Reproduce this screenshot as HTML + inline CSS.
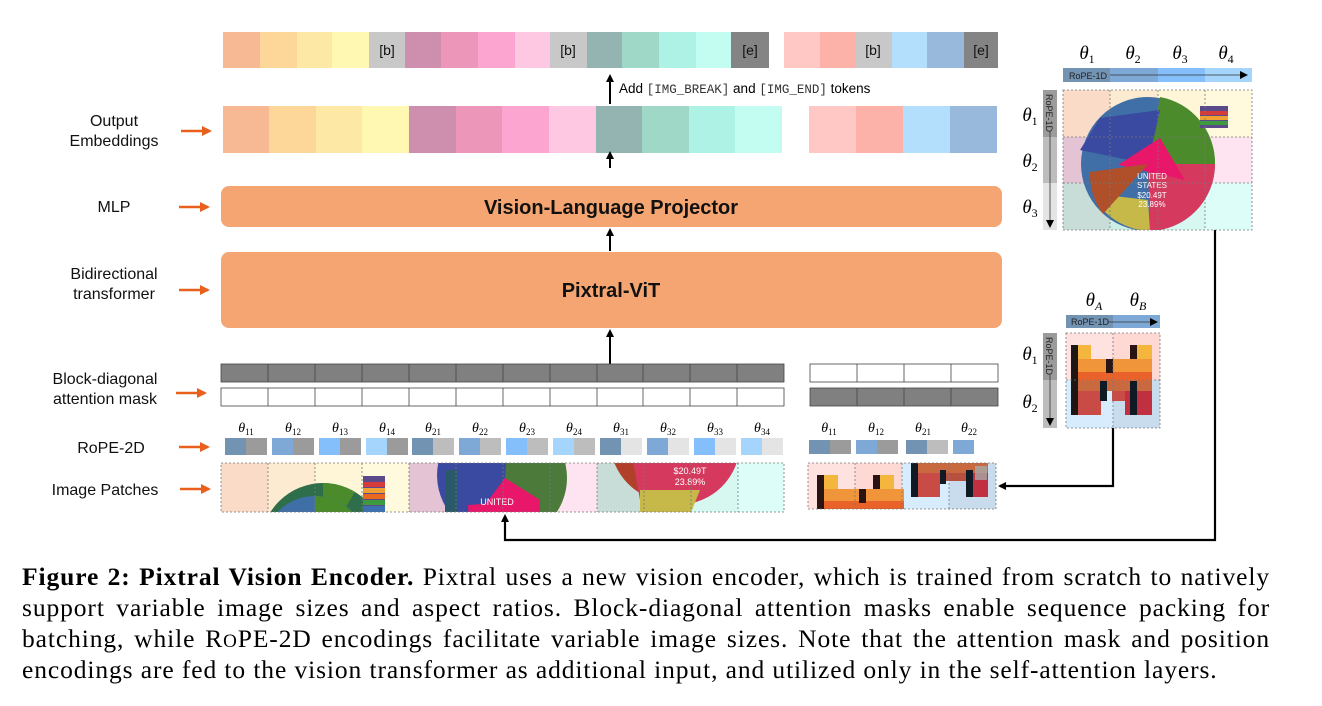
<!DOCTYPE html>
<html><head><meta charset="utf-8"><style>
body{margin:0;background:#fff;width:1322px;height:706px;overflow:hidden;position:relative;font-family:"Liberation Sans",sans-serif}
svg{position:absolute;left:0;top:0}
.cap{position:absolute;left:22px;top:561px;width:1248px;font-family:"Liberation Serif",serif;font-size:25.5px;line-height:31px;color:#000;letter-spacing:0.9px}
.cap div{text-align:justify;text-align-last:justify;white-space:nowrap;height:31px}
.cap div.last{text-align-last:left}
</style></head><body>
<svg width="1322" height="706" viewBox="0 0 1322 706" font-family="Liberation Sans, sans-serif">
<defs>
<marker id="ar" markerWidth="8" markerHeight="8" refX="6" refY="4" orient="auto" markerUnits="userSpaceOnUse"><path d="M0,0 L8,4 L0,8 z" fill="#000"/></marker>
<marker id="ao" markerWidth="10" markerHeight="10" refX="8" refY="5" orient="auto" markerUnits="userSpaceOnUse"><path d="M0,0 L10,5 L0,10 z" fill="#E8601C"/></marker>
<clipPath id="c1"><rect x="221" y="463" width="188" height="49"/></clipPath>
<clipPath id="c2"><rect x="409" y="463" width="188" height="49"/></clipPath>
<clipPath id="c3"><rect x="597" y="463" width="187" height="49"/></clipPath>
<clipPath id="cr"><rect x="1063" y="90" width="189" height="140"/></clipPath>
</defs>

<g>
<rect x="223" y="32" width="37" height="36" fill="#F7B894"/>
<rect x="260" y="32" width="37" height="36" fill="#FDD69A"/>
<rect x="297" y="32" width="36" height="36" fill="#FEE8A5"/>
<rect x="332" y="32" width="37" height="36" fill="#FFF8B3"/>
<rect x="369" y="32" width="36" height="36" fill="#C8C8C8"/>
<rect x="405" y="32" width="37" height="36" fill="#CE8EAD"/>
<rect x="441" y="32" width="37" height="36" fill="#EC96BA"/>
<rect x="478" y="32" width="37" height="36" fill="#FCA5D1"/>
<rect x="515" y="32" width="36" height="36" fill="#FEC8E2"/>
<rect x="550" y="32" width="37" height="36" fill="#C8C8C8"/>
<rect x="587" y="32" width="36" height="36" fill="#93B4B1"/>
<rect x="622" y="32" width="37" height="36" fill="#A0D8C8"/>
<rect x="659" y="32" width="37" height="36" fill="#AEF2E6"/>
<rect x="696" y="32" width="36" height="36" fill="#C3FDF1"/>
<rect x="731" y="32" width="38" height="36" fill="#848484"/>
<rect x="784" y="32" width="36" height="36" fill="#FFC8C4"/>
<rect x="820" y="32" width="36" height="36" fill="#FDB2A9"/>
<rect x="855" y="32" width="37" height="36" fill="#C8C8C8"/>
<rect x="892" y="32" width="36" height="36" fill="#B3DEFC"/>
<rect x="927" y="32" width="37" height="36" fill="#98B9DB"/>
<rect x="964" y="32" width="34" height="36" fill="#848484"/>
<g font-size="14" fill="#111" text-anchor="middle">
<text x="387" y="55">[b]</text><text x="568" y="55">[b]</text><text x="750" y="55">[e]</text>
<text x="873" y="55">[b]</text><text x="981" y="55">[e]</text></g>
</g>

<line x1="610" y1="104" x2="610" y2="76" stroke="#000" stroke-width="2" marker-end="url(#ar)"/>
<text x="619" y="93" font-size="13.5" fill="#000">Add <tspan font-family="Liberation Mono, monospace" font-size="12.5" fill="#333">[IMG_BREAK]</tspan> and <tspan font-family="Liberation Mono, monospace" font-size="12.5" fill="#333">[IMG_END]</tspan> tokens</text>

<g>
<rect x="223" y="106" width="47" height="47" fill="#F7B894"/>
<rect x="269" y="106" width="47" height="47" fill="#FDD69A"/>
<rect x="316" y="106" width="47" height="47" fill="#FEE8A5"/>
<rect x="362" y="106" width="47" height="47" fill="#FFF8B3"/>
<rect x="409" y="106" width="47" height="47" fill="#CE8EAD"/>
<rect x="456" y="106" width="47" height="47" fill="#EC96BA"/>
<rect x="502" y="106" width="47" height="47" fill="#FCA5D1"/>
<rect x="549" y="106" width="47" height="47" fill="#FEC8E2"/>
<rect x="596" y="106" width="47" height="47" fill="#93B4B1"/>
<rect x="642" y="106" width="47" height="47" fill="#A0D8C8"/>
<rect x="689" y="106" width="47" height="47" fill="#AEF2E6"/>
<rect x="735" y="106" width="47" height="47" fill="#C3FDF1"/>
<rect x="809" y="106" width="47" height="47" fill="#FFC8C4"/>
<rect x="856" y="106" width="47" height="47" fill="#FDB2A9"/>
<rect x="903" y="106" width="47" height="47" fill="#B3DEFC"/>
<rect x="950" y="106" width="47" height="47" fill="#98B9DB"/>
</g>
<line x1="610" y1="168" x2="610" y2="153" stroke="#000" stroke-width="2" marker-end="url(#ar)"/>

<rect x="221" y="186" width="781" height="41" rx="8" fill="#F4A571"/>
<text x="611" y="214" font-size="20" font-weight="bold" text-anchor="middle" fill="#111">Vision-Language Projector</text>
<line x1="610" y1="251" x2="610" y2="230" stroke="#000" stroke-width="2" marker-end="url(#ar)"/>
<rect x="221" y="252" width="781" height="76" rx="8" fill="#F4A571"/>
<text x="611" y="297" font-size="20" font-weight="bold" text-anchor="middle" fill="#111">Pixtral-ViT</text>
<line x1="610" y1="364" x2="610" y2="331" stroke="#000" stroke-width="2" marker-end="url(#ar)"/>

<g stroke="#444" stroke-width="0.8">
<rect x="221" y="364" width="563" height="18" fill="#808080"/>
<rect x="221" y="388" width="563" height="18" fill="#fff"/>
<rect x="810" y="364" width="188" height="18" fill="#fff"/>
<rect x="810" y="388" width="188" height="18" fill="#808080"/>
<path d="M268 364v18M315 364v18M362 364v18M409 364v18M456 364v18M503 364v18M550 364v18M597 364v18M643 364v18M690 364v18M737 364v18M268 388v18M315 388v18M362 388v18M409 388v18M456 388v18M503 388v18M550 388v18M597 388v18M643 388v18M690 388v18M737 388v18M857 364v18M904 364v18M951 364v18M857 388v18M904 388v18M951 388v18" fill="none"/>
</g>

<g font-family="Liberation Serif, serif" font-style="italic" font-size="14" text-anchor="middle">
<text x="246" y="432">θ<tspan font-style="normal" font-size="9" dy="3">11</tspan></text>
<text x="293" y="432">θ<tspan font-style="normal" font-size="9" dy="3">12</tspan></text>
<text x="340" y="432">θ<tspan font-style="normal" font-size="9" dy="3">13</tspan></text>
<text x="387" y="432">θ<tspan font-style="normal" font-size="9" dy="3">14</tspan></text>
<text x="433" y="432">θ<tspan font-style="normal" font-size="9" dy="3">21</tspan></text>
<text x="480" y="432">θ<tspan font-style="normal" font-size="9" dy="3">22</tspan></text>
<text x="527" y="432">θ<tspan font-style="normal" font-size="9" dy="3">23</tspan></text>
<text x="574" y="432">θ<tspan font-style="normal" font-size="9" dy="3">24</tspan></text>
<text x="621" y="432">θ<tspan font-style="normal" font-size="9" dy="3">31</tspan></text>
<text x="668" y="432">θ<tspan font-style="normal" font-size="9" dy="3">32</tspan></text>
<text x="715" y="432">θ<tspan font-style="normal" font-size="9" dy="3">33</tspan></text>
<text x="762" y="432">θ<tspan font-style="normal" font-size="9" dy="3">34</tspan></text>
<text x="829" y="432">θ<tspan font-style="normal" font-size="9" dy="3">11</tspan></text>
<text x="876" y="432">θ<tspan font-style="normal" font-size="9" dy="3">12</tspan></text>
<text x="923" y="432">θ<tspan font-style="normal" font-size="9" dy="3">21</tspan></text>
<text x="969" y="432">θ<tspan font-style="normal" font-size="9" dy="3">22</tspan></text>
</g>
<g>
<rect x="225" y="438" width="21" height="17" fill="#7393B3"/><rect x="246" y="438" width="21" height="17" fill="#9B9B9B"/>
<rect x="272" y="438" width="21" height="17" fill="#7EA9D6"/><rect x="293" y="438" width="21" height="17" fill="#9B9B9B"/>
<rect x="319" y="438" width="21" height="17" fill="#84BFFB"/><rect x="340" y="438" width="21" height="17" fill="#9B9B9B"/>
<rect x="366" y="438" width="21" height="17" fill="#A5D5FC"/><rect x="387" y="438" width="21" height="17" fill="#9B9B9B"/>
<rect x="412" y="438" width="21" height="17" fill="#7393B3"/><rect x="433" y="438" width="21" height="17" fill="#BDBDBD"/>
<rect x="459" y="438" width="21" height="17" fill="#7EA9D6"/><rect x="480" y="438" width="21" height="17" fill="#BDBDBD"/>
<rect x="506" y="438" width="21" height="17" fill="#84BFFB"/><rect x="527" y="438" width="21" height="17" fill="#BDBDBD"/>
<rect x="553" y="438" width="21" height="17" fill="#A5D5FC"/><rect x="574" y="438" width="21" height="17" fill="#BDBDBD"/>
<rect x="600" y="438" width="21" height="17" fill="#7393B3"/><rect x="621" y="438" width="21" height="17" fill="#E4E4E4"/>
<rect x="647" y="438" width="21" height="17" fill="#7EA9D6"/><rect x="668" y="438" width="21" height="17" fill="#E4E4E4"/>
<rect x="694" y="438" width="21" height="17" fill="#84BFFB"/><rect x="715" y="438" width="21" height="17" fill="#E4E4E4"/>
<rect x="741" y="438" width="21" height="17" fill="#A5D5FC"/><rect x="762" y="438" width="21" height="17" fill="#E4E4E4"/>
<rect x="809" y="440" width="21" height="14" fill="#7393B3"/><rect x="830" y="440" width="21" height="14" fill="#9B9B9B"/>
<rect x="856" y="440" width="21" height="14" fill="#7EA9D6"/><rect x="877" y="440" width="21" height="14" fill="#9B9B9B"/>
<rect x="906" y="440" width="21" height="14" fill="#7393B3"/><rect x="927" y="440" width="21" height="14" fill="#BDBDBD"/>
<rect x="953" y="440" width="21" height="14" fill="#7EA9D6"/>
</g>

<g>
<rect x="221" y="463" width="47" height="49" fill="#FADBC8"/><rect x="268" y="463" width="47" height="49" fill="#FCEBD0"/>
<rect x="315" y="463" width="47" height="49" fill="#FEF6D6"/><rect x="362" y="463" width="47" height="49" fill="#FFF9DD"/>
<rect x="409" y="463" width="47" height="49" fill="#E4C4D4"/><rect x="456" y="463" width="47" height="49" fill="#E8C8DC"/>
<rect x="503" y="463" width="47" height="49" fill="#F2D2E2"/><rect x="550" y="463" width="47" height="49" fill="#FDE4F0"/>
<rect x="597" y="463" width="47" height="49" fill="#C8DCD8"/><rect x="644" y="463" width="47" height="49" fill="#CDEEE6"/>
<rect x="691" y="463" width="47" height="49" fill="#D6F8F0"/><rect x="738" y="463" width="46" height="49" fill="#DDFDF8"/>
<g clip-path="url(#c1)">
<circle cx="323" cy="545" r="62" fill="#2F6E4A"/>
<path d="M323 545 L323 483 A62 62 0 0 1 355 492 Z" fill="#4B8B2B"/>
<circle cx="315" cy="548" r="52" fill="#3F6FA6"/>
<path d="M315 548 L315 496 A52 52 0 0 1 366 540 Z" fill="#4A8C2A"/>
<rect x="363" y="476" width="22" height="36" fill="#5B4A8A"/><rect x="363" y="482" width="22" height="5" fill="#D43B3B"/><rect x="363" y="488" width="22" height="5" fill="#F0A030"/><rect x="363" y="494" width="22" height="5" fill="#E96A1F"/><rect x="363" y="500" width="22" height="5" fill="#3E9A3E"/><rect x="363" y="506" width="22" height="6" fill="#3D6FB3"/>
</g>
<g clip-path="url(#c2)">
<circle cx="505" cy="478" r="62" fill="#4C7A3A"/>
<path d="M505 478 L450 450 L470 420 L510 416 Z" fill="#3A4AA0"/>
<path d="M505 478 L448 440 A62 62 0 0 0 470 530 Z" fill="#3A4AA0"/>
<path d="M505 478 L540 500 L475 518 Z" fill="#E8176A"/>
<path d="M468 505 L470 540 L540 540 L540 500 Z" fill="#E8176A"/>
<rect x="445" y="470" width="12" height="42" fill="#2A5A6A"/>
<text x="497" y="505" font-size="9" fill="#fff" text-anchor="middle">UNITED</text>
</g>
<g clip-path="url(#c3)">
<circle cx="672" cy="440" r="62" fill="#B0402A"/>
<path d="M672 440 L740 440 A62 62 0 0 1 660 502 Z" fill="#D53A5E"/>
<path d="M632 455 L720 470 A62 62 0 0 1 660 512 L640 500 Z" fill="#D53A5E"/>
<path d="M640 490 L700 490 L690 515 L640 515 Z" fill="#C6B94A"/>
<text x="690" y="474" font-size="9" fill="#fff" text-anchor="middle">$20.49T</text>
<text x="690" y="485" font-size="9" fill="#fff" text-anchor="middle">23.89%</text>
</g>
<g fill="none" stroke="#777" stroke-width="0.8" stroke-dasharray="2,2">
<rect x="221" y="463" width="563" height="49"/>
<path d="M268 463v49M315 463v49M362 463v49M409 463v49M456 463v49M503 463v49M550 463v49M597 463v49M644 463v49M691 463v49M738 463v49"/>
</g>
</g>

<g>
<rect x="808" y="463" width="47" height="46" fill="#FEE2E0"/><rect x="855" y="463" width="47" height="46" fill="#FED8D2"/>
<rect x="902" y="463" width="47" height="46" fill="#D7EDFD"/><rect x="949" y="463" width="47" height="46" fill="#C8DCEE"/>
<rect x="817" y="475" width="7" height="34" fill="#2A1515"/>
<rect x="824" y="475" width="14" height="14" fill="#F5B63E"/>
<rect x="824" y="489" width="80" height="12" fill="#F0953A"/>
<rect x="824" y="501" width="80" height="8" fill="#E8622A"/>
<rect x="880" y="475" width="14" height="14" fill="#F5B63E"/>
<rect x="873" y="475" width="7" height="14" fill="#2A1515"/>
<rect x="859" y="489" width="7" height="14" fill="#2A1515"/>
<rect x="911" y="463" width="77" height="10" fill="#C8693F"/>
<rect x="918" y="473" width="22" height="24" fill="#C84B45"/>
<rect x="944" y="473" width="30" height="8" fill="#B85040"/>
<rect x="973" y="473" width="15" height="24" fill="#C03040"/>
<rect x="911" y="463" width="7" height="34" fill="#0F1A25"/>
<rect x="940" y="470" width="6" height="14" fill="#0F1A25"/>
<rect x="966" y="470" width="7" height="27" fill="#0F1A25"/>
<rect x="975" y="466" width="12" height="14" fill="#A8A8A8" opacity="0.8"/>
<g fill="none" stroke="#777" stroke-width="0.8" stroke-dasharray="2,2">
<rect x="808" y="463" width="188" height="46"/><path d="M855 463v46M902 463v46M949 463v46"/></g>
</g>

<g font-family="Liberation Serif, serif" font-style="italic" font-size="19" text-anchor="middle">
<text x="1087" y="59">θ<tspan font-style="normal" font-size="12" dy="4">1</tspan></text>
<text x="1133" y="59">θ<tspan font-style="normal" font-size="12" dy="4">2</tspan></text>
<text x="1180" y="59">θ<tspan font-style="normal" font-size="12" dy="4">3</tspan></text>
<text x="1226" y="59">θ<tspan font-style="normal" font-size="12" dy="4">4</tspan></text>
<text x="1030" y="121">θ<tspan font-style="normal" font-size="12" dy="4">1</tspan></text>
<text x="1030" y="167">θ<tspan font-style="normal" font-size="12" dy="4">2</tspan></text>
<text x="1030" y="213">θ<tspan font-style="normal" font-size="12" dy="4">3</tspan></text>
<text x="1094" y="306">θ<tspan font-size="12" dy="4">A</tspan></text>
<text x="1138" y="306">θ<tspan font-size="12" dy="4">B</tspan></text>
<text x="1030" y="360">θ<tspan font-style="normal" font-size="12" dy="4">1</tspan></text>
<text x="1030" y="408">θ<tspan font-style="normal" font-size="12" dy="4">2</tspan></text>
</g>
<rect x="1063" y="68" width="47" height="14" fill="#7393B3"/><rect x="1110" y="68" width="48" height="14" fill="#7EA9D6"/>
<rect x="1158" y="68" width="47" height="14" fill="#84BFFB"/><rect x="1205" y="68" width="47" height="14" fill="#A5D5FC"/>
<text x="1069" y="79" font-size="9" fill="#222">RoPE-1D</text>
<line x1="1110" y1="75" x2="1246" y2="75" stroke="#333" stroke-width="0.8" marker-end="url(#ar)"/>
<rect x="1043" y="90" width="14" height="47" fill="#9B9B9B"/><rect x="1043" y="137" width="14" height="46" fill="#BDBDBD"/><rect x="1043" y="183" width="14" height="47" fill="#E4E4E4"/>
<text transform="translate(1046,94) rotate(90)" font-size="9" fill="#222">RoPE-1D</text>
<line x1="1050" y1="131" x2="1050" y2="226" stroke="#333" stroke-width="0.8" marker-end="url(#ar)"/>
<g>
<rect x="1063" y="90" width="47" height="47" fill="#FADBC8"/><rect x="1110" y="90" width="48" height="47" fill="#FCEBD0"/><rect x="1158" y="90" width="47" height="47" fill="#FEF6D6"/><rect x="1205" y="90" width="47" height="47" fill="#FFF9DD"/>
<rect x="1063" y="137" width="47" height="46" fill="#E4C4D4"/><rect x="1110" y="137" width="48" height="46" fill="#E8C8DC"/><rect x="1158" y="137" width="47" height="46" fill="#F2D2E2"/><rect x="1205" y="137" width="47" height="46" fill="#FDE4F0"/>
<rect x="1063" y="183" width="47" height="47" fill="#C8DCD8"/><rect x="1110" y="183" width="48" height="47" fill="#CDEEE6"/><rect x="1158" y="183" width="47" height="47" fill="#D6F8F0"/><rect x="1205" y="183" width="47" height="47" fill="#DDFDF8"/>
<g clip-path="url(#cr)">
<circle cx="1148" cy="164" r="67" fill="#3F6FA6"/>
<path d="M1148 164 L1160 97 A67 67 0 0 1 1215 164 Z" fill="#4B8B2B"/>
<path d="M1148 164 L1080 150 L1100 118 L1160 110 Z" fill="#3A4AA0"/>
<path d="M1148 164 L1215 164 A67 67 0 0 1 1150 231 Z" fill="#D53A5E"/>
<path d="M1118 165 L1160 138 L1185 180 Z" fill="#E8176A"/>
<path d="M1105 195 L1148 200 L1150 231 A67 67 0 0 1 1105 212 Z" fill="#C6B94A"/>
<path d="M1148 164 L1090 172 A67 67 0 0 0 1103 214 Z" fill="#B0502A"/>
<text x="1152" y="179" font-size="8" fill="#fff" text-anchor="middle">UNITED</text>
<text x="1152" y="188" font-size="8" fill="#fff" text-anchor="middle">STATES</text>
<text x="1152" y="198" font-size="8" fill="#fff" text-anchor="middle">$20.49T</text>
<text x="1152" y="207" font-size="8" fill="#fff" text-anchor="middle">23.89%</text>
<rect x="1200" y="106" width="28" height="22" fill="#5B4A8A"/><rect x="1200" y="111" width="28" height="4" fill="#D43B3B"/><rect x="1200" y="116" width="28" height="4" fill="#F0A030"/><rect x="1200" y="121" width="28" height="4" fill="#3E9A3E"/>
</g>
<g fill="none" stroke="#777" stroke-width="0.8" stroke-dasharray="2,2"><rect x="1063" y="90" width="189" height="140"/><path d="M1110 90v140M1158 90v140M1205 90v140M1063 137h189M1063 183h189"/></g>
</g>

<rect x="1066" y="315" width="47" height="13" fill="#7393B3"/><rect x="1113" y="315" width="47" height="13" fill="#7EA9D6"/>
<text x="1071" y="325" font-size="9" fill="#222">RoPE-1D</text>
<line x1="1108" y1="322" x2="1156" y2="322" stroke="#333" stroke-width="0.8" marker-end="url(#ar)"/>
<rect x="1043" y="333" width="14" height="47" fill="#9B9B9B"/><rect x="1043" y="380" width="14" height="48" fill="#BDBDBD"/>
<text transform="translate(1046,337) rotate(90)" font-size="9" fill="#222">RoPE-1D</text>
<line x1="1050" y1="374" x2="1050" y2="424" stroke="#333" stroke-width="0.8" marker-end="url(#ar)"/>
<g>
<rect x="1066" y="333" width="47" height="47" fill="#FEE2E0"/><rect x="1113" y="333" width="47" height="47" fill="#FED8D2"/>
<rect x="1066" y="380" width="47" height="48" fill="#D7EDFD"/><rect x="1113" y="380" width="47" height="48" fill="#C8DCEE"/>
<rect x="1077" y="345" width="14" height="14" fill="#F5B63E"/>
<rect x="1077" y="359" width="75" height="14" fill="#F0953A"/>
<rect x="1077" y="372" width="75" height="9" fill="#E8622A"/>
<rect x="1077" y="381" width="75" height="10" fill="#C8693F"/>
<rect x="1077" y="391" width="24" height="24" fill="#C84B45"/>
<rect x="1125" y="391" width="27" height="24" fill="#C03040"/>
<rect x="1112" y="391" width="13" height="10" fill="#C84B45"/>
<rect x="1137" y="345" width="15" height="14" fill="#F5B63E"/>
<rect x="1071" y="345" width="7" height="70" fill="#1E1515"/>
<rect x="1130" y="345" width="7" height="14" fill="#2A1515"/>
<rect x="1106" y="359" width="7" height="14" fill="#2A1515"/>
<rect x="1100" y="381" width="7" height="20" fill="#0F1A25"/>
<rect x="1130" y="381" width="7" height="34" fill="#0F1A25"/>
<g fill="none" stroke="#777" stroke-width="0.8" stroke-dasharray="2,2"><rect x="1066" y="333" width="94" height="95"/><path d="M1113 333v95M1066 380h94"/></g>
</g>

<polyline points="1113,428 1113,486 1000,486" fill="none" stroke="#000" stroke-width="2.2" marker-end="url(#ar)"/>
<polyline points="1215,230 1215,540 505,540 505,516" fill="none" stroke="#000" stroke-width="2.2" marker-end="url(#ar)"/>

<g font-size="16" fill="#111" text-anchor="middle">
<text x="114" y="126">Output</text><text x="114" y="146">Embeddings</text>
<text x="114" y="212">MLP</text>
<text x="114" y="279">Bidirectional</text><text x="114" y="299">transformer</text>
<text x="105" y="384">Block-diagonal</text><text x="105" y="404">attention mask</text>
<text x="111" y="453">RoPE-2D</text>
<text x="105" y="495">Image Patches</text>
</g>
<g stroke="#E8601C" stroke-width="2.5">
<line x1="181" y1="131" x2="210" y2="131" marker-end="url(#ao)"/>
<line x1="179" y1="207" x2="208" y2="207" marker-end="url(#ao)"/>
<line x1="179" y1="290" x2="208" y2="290" marker-end="url(#ao)"/>
<line x1="176" y1="393" x2="205" y2="393" marker-end="url(#ao)"/>
<line x1="179" y1="447" x2="208" y2="447" marker-end="url(#ao)"/>
<line x1="180" y1="489" x2="209" y2="489" marker-end="url(#ao)"/>
</g>
</svg>
<div class="cap">
<div><b>Figure 2: Pixtral Vision Encoder.</b> Pixtral uses a new vision encoder, which is trained from scratch to natively</div>
<div>support variable image sizes and aspect ratios. Block-diagonal attention masks enable sequence packing for</div>
<div>batching, while R<span style="font-size:19px">O</span>PE-2D encodings facilitate variable image sizes. Note that the attention mask and position</div>
<div class="last">encodings are fed to the vision transformer as additional input, and utilized only in the self-attention layers.</div>
</div>
</body></html>
